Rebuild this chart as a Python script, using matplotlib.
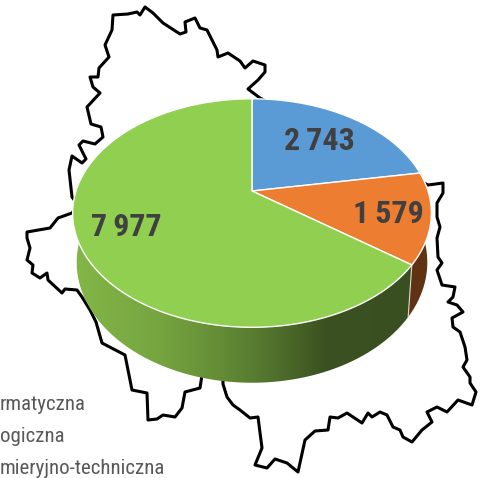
import numpy as np
import matplotlib.pyplot as plt
from matplotlib.colors import LinearSegmentedColormap
from matplotlib.patches import Polygon

# slice values clockwise from 12 o'clock
values = [2743, 1579, 7977]
value_labels = ['2\u2009743', '1\u2009579', '7\u2009977']
top_colors = ['#5b9bd5', '#ed7d31', '#90cf50']
legend_labels = ['rmatyczna', 'ogiczna', 'mieryjno-techniczna']

# county outline behind the pie
map_x = [78, 72, 69, 72, 82, 86, 79, 83, 95, 103, 101, 91, 87, 100, 93, 90, 98, 99, 109, 105, 112, 113,
         128, 137, 140, 145, 153, 163, 180, 186, 185, 195, 200, 207, 217, 218, 228, 240, 245, 253, 265,
         265, 258, 248, 260, 428, 443, 443, 437, 437, 440, 437, 438, 442, 437, 442, 455, 453, 448, 457,
         463, 452, 453, 460, 465, 467, 463, 470, 470, 476, 472, 458, 447, 437, 427, 432, 422, 412, 403,
         400, 393, 387, 380, 372, 368, 362, 347, 338, 330, 328, 315, 305, 298, 287, 275, 267, 255, 262,
         258, 250, 240, 233, 227, 223, 223, 202, 200, 185, 182, 175, 163, 157, 148, 147, 132, 125, 102,
         96, 90, 82, 77, 65, 62, 48, 47, 40, 32, 33, 27, 30, 27, 27, 50, 58, 72, 78]
map_y = [205, 197, 170, 156, 163, 159, 145, 141, 144, 137, 127, 124, 107, 93, 87, 77, 77, 68, 57, 45, 30, 15,
         14, 12, 15, 7, 13, 23, 34, 32, 22, 18, 28, 30, 50, 57, 53, 61, 68, 61, 65,
         72, 80, 89, 98, 185, 183, 193, 203, 217, 227, 238, 257, 263, 270, 285, 287, 297, 302, 305,
         312, 318, 327, 332, 347, 360, 367, 377, 383, 392, 405, 400, 412, 407, 412, 422, 430, 442, 437,
         430, 427, 415, 412, 417, 413, 423, 413, 418, 417, 430, 431, 440, 472, 463, 459, 468, 465, 448,
         417, 418, 410, 405, 397, 384, 375, 375, 388, 392, 408, 417, 415, 419, 420, 393, 390, 355, 343,
         322, 310, 297, 290, 289, 293, 280, 273, 278, 273, 265, 260, 248, 238, 232, 228, 218, 213, 205]

# green side shading, left to right
side_shades = [(0.0, '#84b647'), (0.25, '#76a540'), (0.45, '#628a35'), (0.6, '#4f6f2c'),
               (0.74, '#3b5120'), (1.0, '#3a4f20')]
side_shade_cmap = LinearSegmentedColormap.from_list('side', side_shades)


def project(turn, cx, cy, a, b, k):
    x_c = np.sin(turn)
    y_c = np.cos(turn)
    w = 1 + k * y_c
    return cx + a * x_c / w, cy - b * y_c / w


def arc(t0, t1, cx, cy, a, b, k):
    t = np.linspace(t0, t1, 200)
    return np.column_stack(project(t, cx, cy, a, b, k))


top_geo = (252, 191, 176, 110, 0.193)
bot_geo = (252, 239, 172, 116, 0.193)

cuts = 2 * np.pi * np.cumsum([0] + values) / sum(values)

fig = plt.figure(figsize=(4.81, 4.78), dpi=100)
ax = fig.add_axes([0, 0, 1, 1])
ax.axis('off')

ax.plot(map_x, map_y, color='black', lw=2.2, zorder=1, solid_joinstyle='round')

# side walls
t_left = np.radians(285)
side = np.vstack([arc(cuts[2], t_left, *top_geo), arc(t_left, cuts[2], *bot_geo)])
patch = Polygon(side, closed=True, fc='none', ec='none', zorder=2)
ax.add_patch(patch)
grad = ax.imshow(np.linspace(0, 1, 256)[None, :], cmap=side_shade_cmap, extent=(72, 415, 390, 180),
                 aspect='auto', zorder=2)
grad.set_clip_path(patch)
ax.set_xlim(0, 481)
ax.set_ylim(478, 0)

t_right = np.radians(80)
wall = np.vstack([arc(t_right, cuts[2], *top_geo), arc(cuts[2], t_right, *bot_geo)])
ax.add_patch(Polygon(wall, closed=True, fc='#5f3312', ec='none', zorder=2))
edge_top = project(cuts[2], *top_geo)
edge_bot = project(cuts[2], *bot_geo)
ax.plot([edge_top[0], edge_bot[0]], [edge_top[1], edge_bot[1]], color='#d8d8d0', lw=0.8, zorder=3)

# top face
apex = np.array([[top_geo[0], top_geo[1]]])
for i, color in enumerate(top_colors):
    pts = np.vstack([apex, arc(cuts[i], cuts[i + 1], *top_geo)])
    ax.add_patch(Polygon(pts, closed=True, fc=color, ec='white', lw=1.0, zorder=4, joinstyle='round'))

label_font = ['Liberation Sans Narrow', 'Roboto Condensed', 'Lato', 'DejaVu Sans']
label_pos = [(319, 141), (388, 214), (126, 227)]
for text, (x, y) in zip(value_labels, label_pos):
    ax.text(x, y, text, fontsize=23, fontweight='bold', color='#404040', ha='center', va='center',
            family=label_font, zorder=5)

legend_x = [0, 0, 0]
for text, x, y in zip(legend_labels, legend_x, [404, 437, 469]):
    ax.text(x, y, text, fontsize=15, color='#595959', ha='left', va='center', family=label_font, zorder=5)

fig.savefig('out.png', dpi=100)
